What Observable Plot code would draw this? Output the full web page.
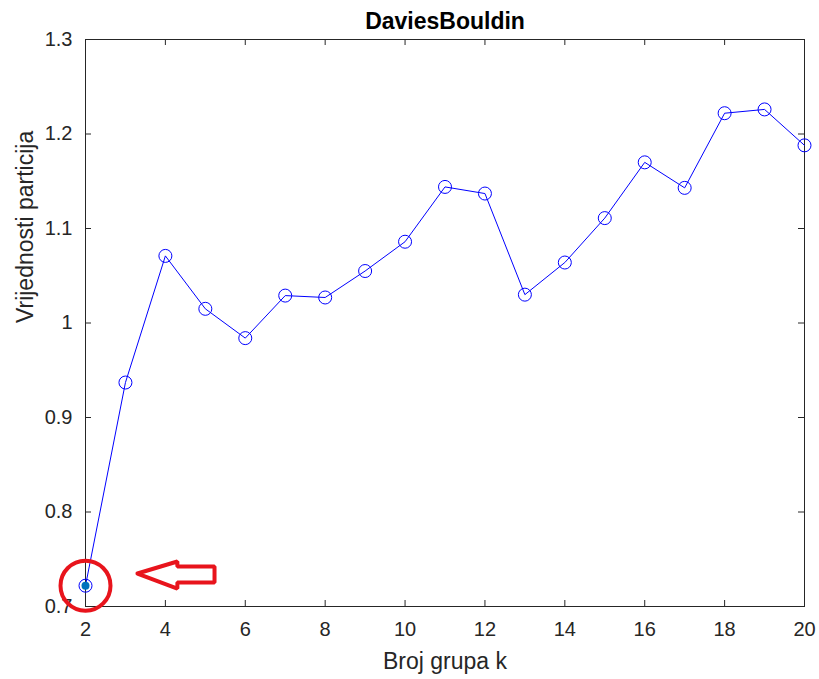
<!DOCTYPE html>
<html><head><meta charset="utf-8">
<script src="https://cdn.jsdelivr.net/npm/d3@7"></script>
<script src="https://cdn.jsdelivr.net/npm/@observablehq/plot@0.6"></script>
<style>
body{margin:0;background:#fff;}
#chart svg{font-family:"Liberation Sans",Arial,sans-serif;}
</style>
</head><body><div id="chart"></div>
<script>
const title = "DaviesBouldin";
const xLabel = "Broj grupa k";
const yLabel = "Vrijednosti particija";
const k = [2,3,4,5,6,7,8,9,10,11,12,13,14,15,16,17,18,19,20];
const values = [0.722,0.937,1.071,1.015,0.984,1.029,1.027,1.055,1.086,1.144,1.137,1.030,1.064,1.111,1.170,1.143,1.222,1.226,1.188];
const xTicks = [2,4,6,8,10,12,14,16,18,20];
const yTicks = [0.7,0.8,0.9,1.0,1.1,1.2,1.3];
const highlightK = 2;
// annotation arrow outline (data units)
const arrowX = [3.30,4.30,4.30,5.23,5.23,4.30,4.30,3.30];
const arrowY = [0.7349,0.7476,0.7423,0.7423,0.7254,0.7254,0.719,0.7349];

const data = k.map((d,i)=>({k:d, v:values[i]}));
const hl = data.filter(d=>d.k===highlightK);
const arrow = arrowX.map((x,i)=>({x, y:arrowY[i]}));

const axisColor = "#262626";
const W = 819, H = 679, mL = 85, mR = 15, mT = 39, mB = 73;
const fw = W - mL - mR, fh = H - mT - mB, tl = 6;
const chart = Plot.plot({
  width: W, height: H,
  marginLeft: mL, marginRight: mR, marginTop: mT, marginBottom: mB,
  style: {fontSize: "20px", fontFamily: "'Liberation Sans', Arial, sans-serif", color: axisColor, background: "#fff"},
  x: {domain: [2,20]},
  y: {domain: [0.7,1.3]},
  marks: [
    Plot.frame({stroke: axisColor, strokeWidth: 1}),
    Plot.axisX({anchor: "bottom", ticks: xTicks, tickSize: 0, tickPadding: 15, label: null, fontSize: 20, tickFormat: d=>d}),
    Plot.axisY({anchor: "left", ticks: yTicks, tickSize: 0, tickPadding: 13, label: null, fontSize: 20, tickFormat: d=>String(+d.toFixed(1))}),
    Plot.ruleX(xTicks, {x: d=>d, insetTop: fh - tl, stroke: axisColor}),
    Plot.ruleX(xTicks, {x: d=>d, insetBottom: fh - tl, stroke: axisColor}),
    Plot.ruleY(yTicks, {y: d=>d, insetRight: fw - tl, stroke: axisColor}),
    Plot.ruleY(yTicks, {y: d=>d, insetLeft: fw - tl, stroke: axisColor}),
    Plot.line(data, {x: "k", y: "v", stroke: "#0000ff", strokeWidth: 1}),
    Plot.dot(data, {x: "k", y: "v", r: 6.5, stroke: "#0000ff", strokeWidth: 1, fill: "none"}),
    Plot.dot(hl, {x: "k", y: "v", r: 4, fill: "#0072bd", stroke: "none"}),
    Plot.dot(hl, {x: "k", y: "v", r: 25, stroke: "#e8141c", strokeWidth: 4, fill: "none"}),
    Plot.line(arrow, {x: "x", y: "y", stroke: "#e8141c", strokeWidth: 4, strokeLinejoin: "miter", fill: "none"}),
    Plot.text([title], {frameAnchor: "top", lineAnchor: "middle", dy: -18, fontWeight: "bold", fontSize: 23, fill: "#000"}),
    Plot.text([xLabel], {frameAnchor: "bottom", lineAnchor: "middle", dy: 55, fontSize: 23, fill: axisColor}),
    Plot.text([yLabel], {frameAnchor: "left", lineAnchor: "middle", dx: -60, rotate: -90, fontSize: 23, fill: axisColor})
  ]
});
document.getElementById("chart").appendChild(chart);
</script>
</body></html>
